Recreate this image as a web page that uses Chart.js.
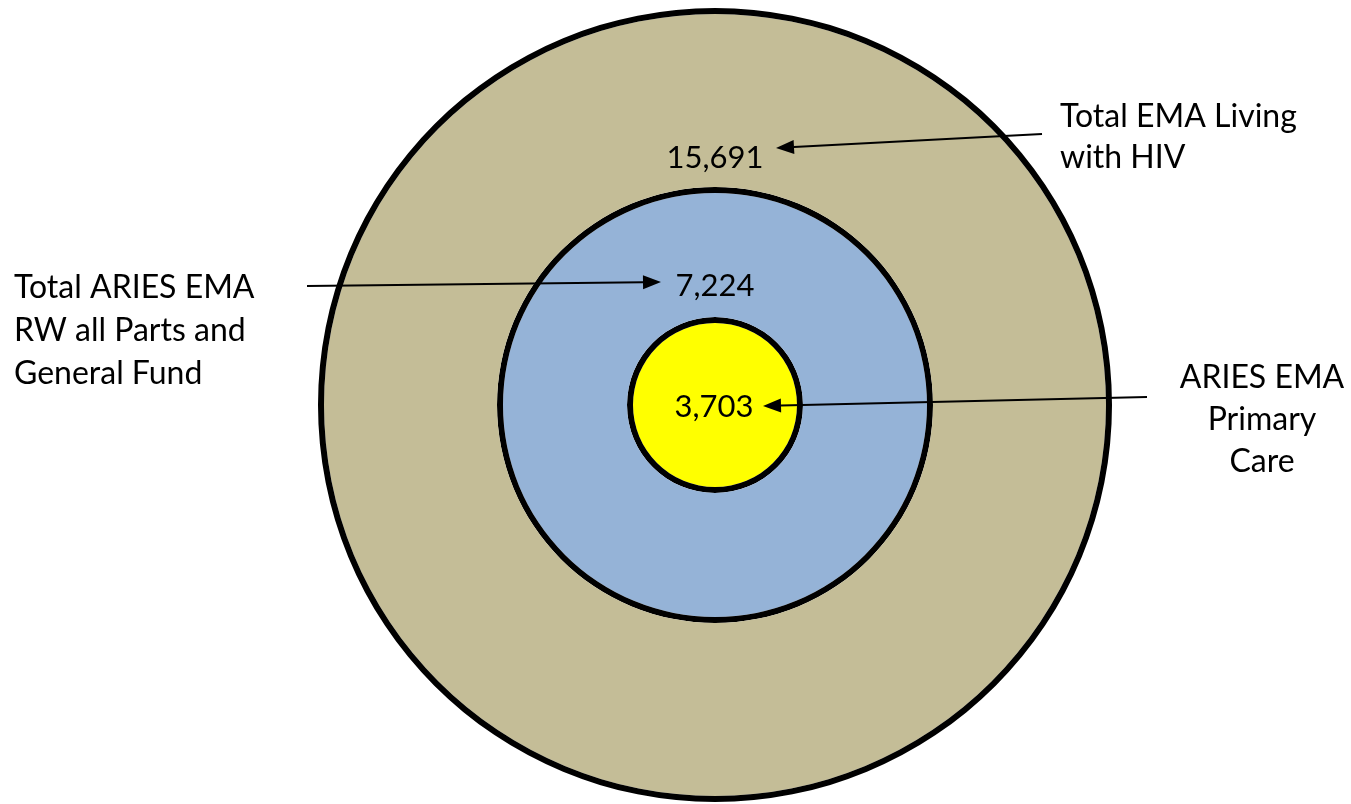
<!DOCTYPE html>
<html>
<head>
<meta charset="utf-8">
<script src="https://cdn.jsdelivr.net/npm/chart.js@4.4.1/dist/chart.umd.min.js"></script>
<style>
  html, body { margin: 0; padding: 0; background: #ffffff; }
  #wrap { width: 1351px; height: 804px; position: relative; }
</style>
</head>
<body>
<div id="wrap"><canvas id="rings"></canvas></div>
<script>
// data
const categories = ['Total EMA Living with HIV', 'Total ARIES EMA RW all Parts and General Fund', 'ARIES EMA Primary Care'];
const counts = [15691, 7224, 3703];
const labelLines = [
    ['Total EMA Living', 'with HIV'],
    ['Total ARIES EMA', 'RW all Parts and', 'General Fund'],
    ['ARIES EMA', 'Primary', 'Care']
];

// styles / layout
const ringColors = ['#C4BD97', '#95B3D7', '#FFFF00'];
const ringWeights = [173, 124, 82];
const edgeWeight = 6;
const fontFamily = "Lato, 'Open Sans', sans-serif";
const numberFontSize = 31;
const labelFontSize = 32;

const numberPos = [
    { x: 715, y: 168 },
    { x: 715, y: 296 },
    { x: 714, y: 417 }
];
const calloutText = [
    { x: 1060, y: 127, align: 'left', lineGap: 41 },
    { x: 14, y: 298, align: 'left', lineGap: 43 },
    { x: 1262, y: 388, align: 'center', lineGap: 42 }
];
const arrows = [
    { from: [1042, 134], to: [776, 148] },
    { from: [307, 286], to: [661, 282] },
    { from: [1147, 397], to: [763, 406] }
];

const datasets = [];
categories.forEach(function(name, i) {
    datasets.push({
        label: name + ' edge',
        data: [counts[i]],
        backgroundColor: '#000000',
        borderWidth: 0,
        weight: edgeWeight
    });
    datasets.push({
        label: name,
        data: [counts[i]],
        backgroundColor: ringColors[i],
        borderWidth: 0,
        weight: ringWeights[i]
    });
});

function drawArrow(ctx, from, to) {
    const angle = Math.atan2(to[1] - from[1], to[0] - from[0]);
    const headLen = 18;
    const headHalf = 7;
    const baseX = to[0] - headLen * Math.cos(angle);
    const baseY = to[1] - headLen * Math.sin(angle);
    ctx.beginPath();
    ctx.moveTo(from[0], from[1]);
    ctx.lineTo(baseX, baseY);
    ctx.lineWidth = 2;
    ctx.strokeStyle = '#000000';
    ctx.stroke();
    ctx.beginPath();
    ctx.moveTo(to[0], to[1]);
    ctx.lineTo(baseX + headHalf * Math.sin(angle), baseY - headHalf * Math.cos(angle));
    ctx.lineTo(baseX - headHalf * Math.sin(angle), baseY + headHalf * Math.cos(angle));
    ctx.closePath();
    ctx.fillStyle = '#000000';
    ctx.fill();
}

const annotationPlugin = {
    id: 'ringAnnotations',
    afterDraw: function(chart) {
        const ctx = chart.ctx;
        ctx.save();
        ctx.fillStyle = '#000000';
        ctx.textBaseline = 'alphabetic';

        ctx.font = numberFontSize + 'px ' + fontFamily;
        counts.forEach(function(value, i) {
            ctx.textAlign = 'center';
            ctx.fillText(value.toLocaleString('en-US'), numberPos[i].x, numberPos[i].y);
        });

        ctx.font = labelFontSize + 'px ' + fontFamily;
        labelLines.forEach(function(lines, i) {
            const pos = calloutText[i];
            ctx.textAlign = pos.align;
            lines.forEach(function(line, j) {
                ctx.fillText(line, pos.x, pos.y + j * pos.lineGap);
            });
        });

        arrows.forEach(function(a) {
            drawArrow(ctx, a.from, a.to);
        });
        ctx.restore();
    }
};

const ringsChart = new Chart(document.getElementById('rings').getContext('2d'), {
    type: 'pie',
    data: {
        labels: ['count'],
        datasets: datasets
    },
    options: {
        responsive: true,
        maintainAspectRatio: false,
        animation: false,
        layout: { padding: { top: 8, bottom: 2, left: 79, right: 0 } },
        plugins: {
            legend: { display: false },
            tooltip: { enabled: false }
        },
        events: []
    },
    plugins: [annotationPlugin]
});
</script>
</body>
</html>
